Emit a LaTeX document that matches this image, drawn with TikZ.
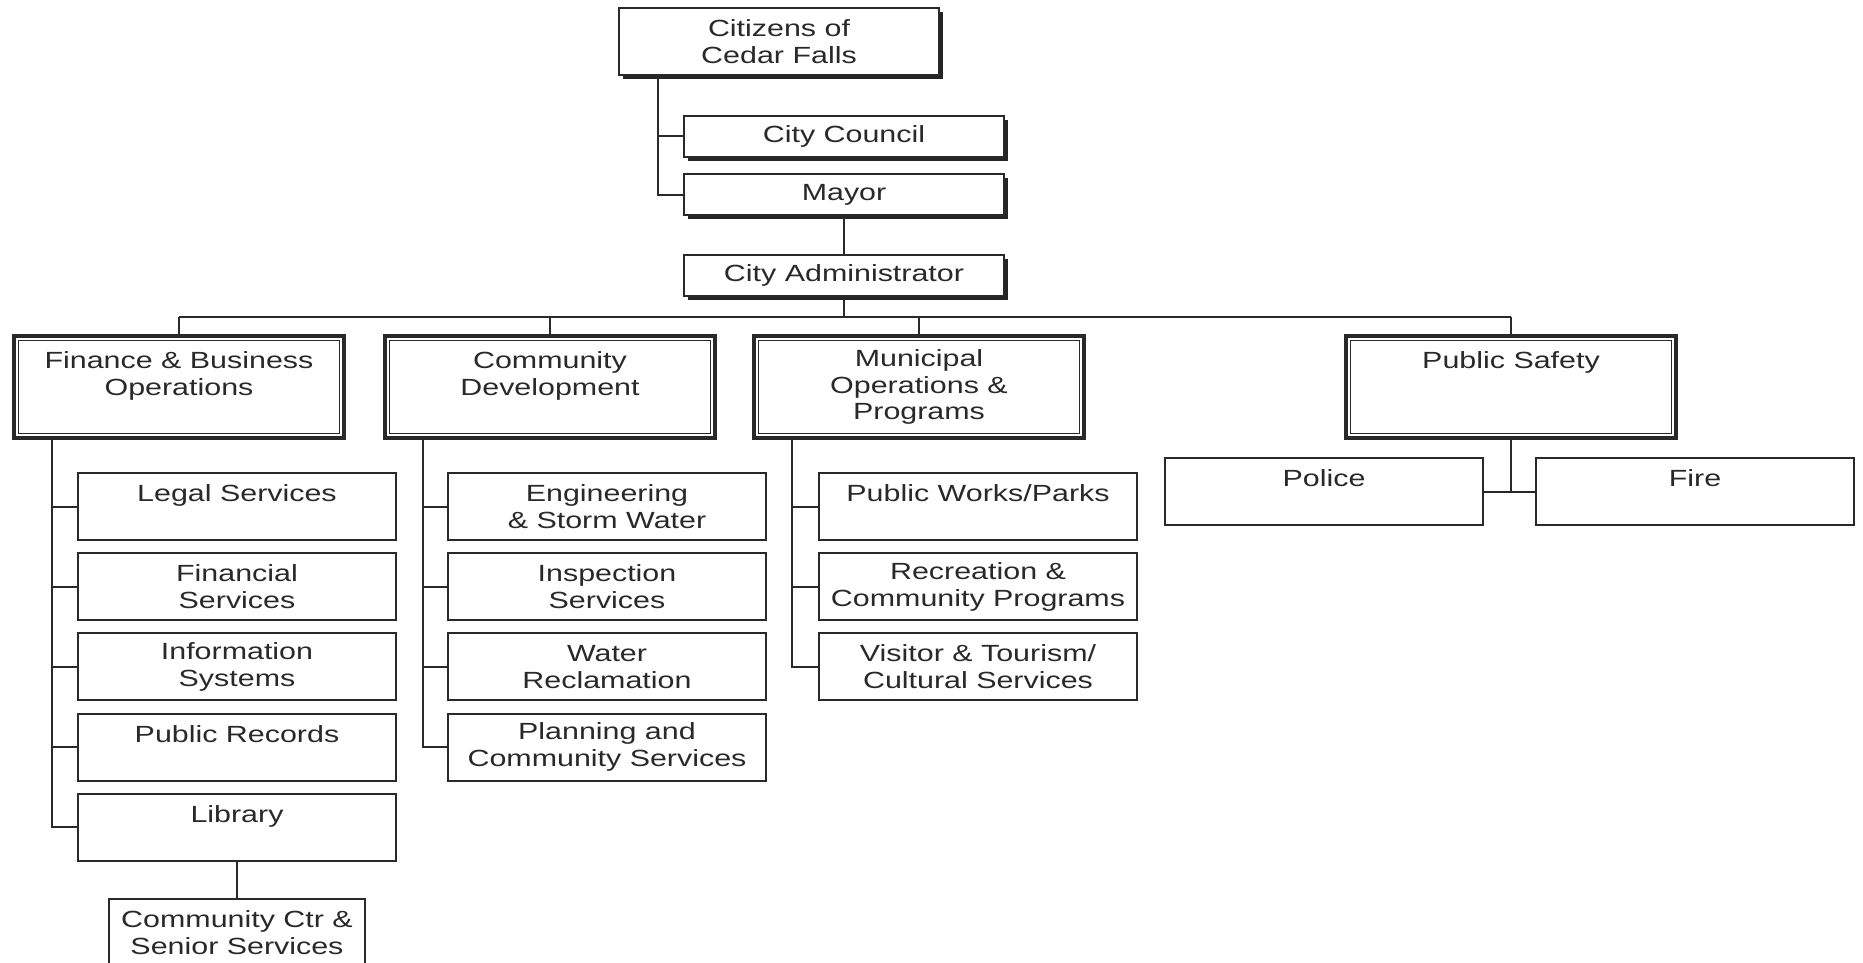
\documentclass[tikz,border=0pt]{standalone}
\usepackage{fontspec}
\usepackage{tikz}
\usetikzlibrary{positioning,shadows}
\newfontfamily\orgfont[FakeStretch=1.3]{Liberation Sans}
\definecolor{inkclr}{rgb}{0.16, 0.16, 0.16}
\definecolor{shadeclr}{rgb}{0.15, 0.15, 0.15}
\tikzset{ %
  ,every node/.style={font=\orgfont\fontsize{11.7}{13.4}\selectfont, text=inkclr, align=center}
  ,leadbox/.style={draw=inkclr, line width=1pt, fill=white, minimum width=160pt, minimum height=20.5pt, inner sep=1pt, drop shadow={shadow xshift=2pt, shadow yshift=-2pt, fill=shadeclr, opacity=1}}
  ,deptbox/.style={draw=inkclr, line width=2pt, minimum width=165pt, minimum height=51pt, inner sep=1pt}
  ,unitbox/.style={draw=inkclr, line width=1pt, minimum width=159pt, minimum height=33.5pt, inner sep=1pt}
  ,link/.style={draw=inkclr, line width=1pt}
}

\begin{document}
\begin{tikzpicture}[x=0.5pt, y=-0.5pt]
  \useasboundingbox (0,0) rectangle (1863,963);
  % top of the chart
  \node[leadbox, minimum height=33.5pt, anchor=north west] (citizens) at (618,7) {Citizens of\\Cedar Falls};
  \node[leadbox, anchor=north west] (council) at (683,115) {City Council};
  \node[leadbox, below=7.6pt of council] (mayor) {Mayor};
  \node[leadbox, below=19pt of mayor] (admin) {City Administrator};
  % departments
  \node[deptbox, anchor=north west] (finance) at (12,334) {Finance \& Business\\Operations\\~};
  \node[deptbox, right=18.5pt of finance] (commdev) {Community\\Development\\~};
  \node[deptbox, right=17.5pt of commdev] (municipal) {Municipal\\Operations \&\\Programs};
  \node[deptbox, anchor=north west] (safety) at (1344,334) {Public Safety\\~\\~};
  % finance units
  \node[unitbox, anchor=north west] (legal) at (77,472) {Legal Services\\~};
  \node[unitbox, below=5.6pt of legal] (finsvc) {Financial\\Services};
  \node[unitbox, below=5.6pt of finsvc] (infosys) {Information\\Systems};
  \node[unitbox, below=5.6pt of infosys] (records) {Public Records\\~};
  \node[unitbox, below=5.6pt of records] (library) {Library\\~};
  \node[unitbox, minimum width=128pt, below=18pt of library] (seniors) {Community Ctr \&\\Senior Services};
  % community development units
  \node[unitbox, anchor=north west] (engineer) at (447,472) {Engineering\\\& Storm Water};
  \node[unitbox, below=5.6pt of engineer] (inspect) {Inspection\\Services};
  \node[unitbox, below=5.6pt of inspect] (water) {Water\\Reclamation};
  \node[unitbox, below=5.6pt of water] (planning) {Planning and\\Community Services};
  % municipal units
  \node[unitbox, anchor=north west] (works) at (818,472) {Public Works/Parks\\~};
  \node[unitbox, below=5.6pt of works] (recreation) {Recreation \&\\Community Programs};
  \node[unitbox, below=5.6pt of recreation] (visitor) {Visitor \& Tourism/\\Cultural Services};
  % safety units
  \node[unitbox, anchor=north west] (police) at (1164,457) {Police\\~};
  \node[unitbox, anchor=north west] (fire) at (1535,457) {Fire\\~};

  % inner line of the department boxes
  \foreach \d in {finance,commdev,municipal,safety}
    \draw[inkclr, line width=0.6pt] ([shift={(3.3pt,-3.3pt)}]\d.north west) rectangle ([shift={(-3.3pt,3.3pt)}]\d.south east);

  % connectors
  \coordinate (trunk) at ([xshift=20pt]citizens.south west);
  \draw[link] (trunk) |- (mayor.west);
  \draw[link] (trunk |- council.west) -- (council.west);
  \draw[link] (mayor) -- (admin);
  \coordinate (bus) at ([yshift=-10pt]admin.south);
  \draw[link] (admin.south) -- (bus);
  \draw[link] (finance.north |- bus) -- (safety.north |- bus);
  \foreach \d in {finance,commdev,municipal,safety}
    \draw[link] (\d.north) -- (\d.north |- bus);

  \coordinate (fintrunk) at ([xshift=20pt]finance.south west);
  \draw[link] (fintrunk) |- (library.west);
  \foreach \u in {legal,finsvc,infosys,records}
    \draw[link] (fintrunk |- \u.west) -- (\u.west);
  \draw[link] (library) -- (seniors);

  \coordinate (cdtrunk) at ([xshift=20pt]commdev.south west);
  \draw[link] (cdtrunk) |- (planning.west);
  \foreach \u in {engineer,inspect,water}
    \draw[link] (cdtrunk |- \u.west) -- (\u.west);

  \coordinate (mtrunk) at ([xshift=20pt]municipal.south west);
  \draw[link] (mtrunk) |- (visitor.west);
  \foreach \u in {works,recreation}
    \draw[link] (mtrunk |- \u.west) -- (\u.west);

  \draw[link] (safety.south) -- (safety.south |- police.east);
  \draw[link] (police.east) -- (fire.west);
\end{tikzpicture}
\end{document}
